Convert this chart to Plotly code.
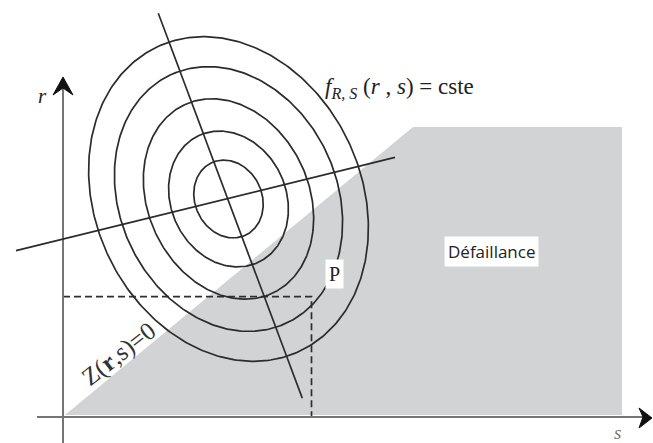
import numpy as np
import plotly.graph_objects as go

# ---- diagram data, in (s, r) units with the origin at the axes' crossing ----
# failure domain (grey area beyond the limit state Z(r,s)=0)
fail_s = [2, 350, 559, 559, 2]
fail_r = [2, 290, 290, 2, 2]

# iso-density contours of f_{R,S}: concentric tilted ellipses
center_s, center_r = 165.5, 218.0
semi_major = [40, 70, 104, 137, 168]
semi_minor = [33.5, 57.5, 80.5, 108.5, 133]
major_dir_deg = 115.0

# principal lines through the centre of the density
long_s, long_r = [95.3, 239.3], [403.7, 18.7]
short_s, short_r = [-47.0, 332.0], [166.3, 259.7]

# design point P and its projections on the axes
p_s, p_r = 248.5, 120.3

# axes extents and arrow heads
vaxis_s, vaxis_r = [0, 0], [-26, 330]
haxis_s, haxis_r = [-26, 580], [0, 0]
varrow_s, varrow_r = [0, -10, 0, 10, 0], [340, 322, 329, 322, 340]
harrow_s, harrow_r = [589, 576, 580, 576, 589], [-1, 9, 0, -11, -1]

SERIF = "Times New Roman"
INK = "#2b2b2b"

fig = go.Figure()

fig.add_trace(go.Scatter(x=fail_s, y=fail_r, mode="lines", fill="toself",
                         fillcolor="#d1d3d5", line=dict(width=0),
                         hoverinfo="skip"))

# dashed projections of P
fig.add_trace(go.Scatter(x=[0, p_s, p_s], y=[p_r, p_r, 0], mode="lines",
                         line=dict(color="#2e2e2e", width=1.7, dash="7px,4px"),
                         hoverinfo="skip"))

# axes
for xs, ys in [(vaxis_s, vaxis_r), (haxis_s, haxis_r)]:
    fig.add_trace(go.Scatter(x=xs, y=ys, mode="lines",
                             line=dict(color="#767676", width=2),
                             hoverinfo="skip"))
for xs, ys in [(varrow_s, varrow_r), (harrow_s, harrow_r)]:
    fig.add_trace(go.Scatter(x=xs, y=ys, mode="lines", fill="toself",
                             fillcolor="#111111",
                             line=dict(color="#111111", width=1),
                             hoverinfo="skip"))

# ellipses
t = np.linspace(0, 2 * np.pi, 361)
phi = np.deg2rad(major_dir_deg)
for a, b in zip(semi_major, semi_minor):
    u = a * np.cos(t)
    v = b * np.sin(t)
    xs = center_s + u * np.cos(phi) - v * np.sin(phi)
    ys = center_r + u * np.sin(phi) + v * np.cos(phi)
    fig.add_trace(go.Scatter(x=xs, y=ys, mode="lines",
                             line=dict(color=INK, width=1.7),
                             hoverinfo="skip"))

# principal lines
for xs, ys in [(long_s, long_r), (short_s, short_r)]:
    fig.add_trace(go.Scatter(x=xs, y=ys, mode="lines",
                             line=dict(color=INK, width=1.7),
                             hoverinfo="skip"))

ann = [
    dict(x=-21, y=321, text="<i>r</i>", font=dict(family=SERIF, size=21, color="#222")),
    dict(x=554, y=-15, text="<i>s</i>", font=dict(family=SERIF, size=19, color="#777")),
    dict(x=260, y=329, xanchor="left",
         text="<i>f</i><sub><i>R, S</i></sub> (<i>r</i> , <i>s</i>) = cste",
         font=dict(family=SERIF, size=23, color="#222")),
    dict(x=271, y=143, text="P", bgcolor="white", borderpad=3,
         font=dict(family=SERIF, size=20, color="#222")),
    dict(x=428, y=165.5, text="Défaillance", bgcolor="white", borderpad=3,
         font=dict(family="Open Sans", size=17, color="#222")),
    dict(x=56, y=63, text="Z(<b>r</b>,s)=0", textangle=-38,
         font=dict(family=SERIF, size=25, color="#333")),
]
for a in ann:
    a.setdefault("xanchor", "center")
    a.setdefault("yanchor", "middle")
    fig.add_annotation(xref="x", yref="y", showarrow=False, **a)

fig.update_layout(
    width=653, height=443,
    margin=dict(l=0, r=0, t=0, b=0),
    paper_bgcolor="white", plot_bgcolor="white",
    showlegend=False,
    xaxis=dict(range=[-63, 590], visible=False, fixedrange=True),
    yaxis=dict(range=[-26, 417], visible=False, fixedrange=True),
)

fig.write_html("out.html")
